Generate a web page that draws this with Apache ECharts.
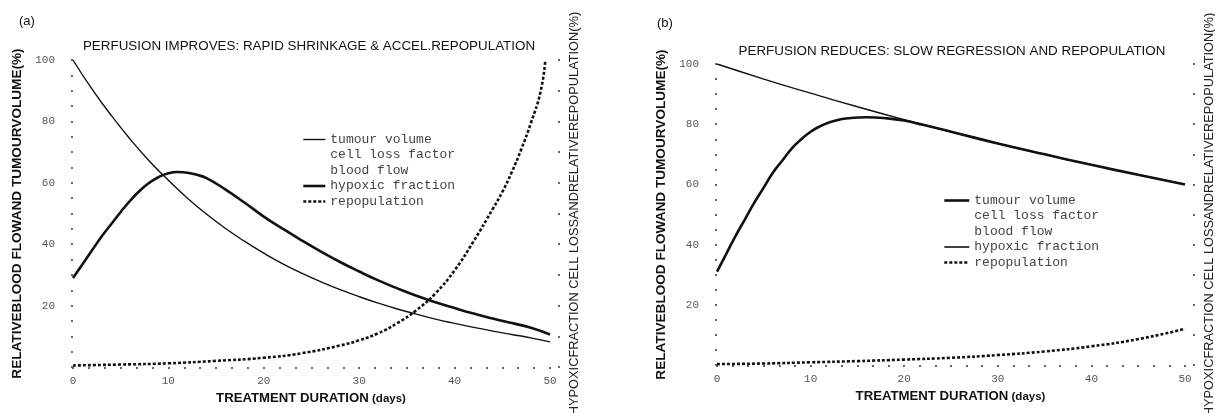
<!DOCTYPE html>
<html>
<head>
<meta charset="utf-8">
<script src="https://cdn.jsdelivr.net/npm/echarts@6/dist/echarts.min.js"></script>
<style>
html,body{margin:0;padding:0;background:#fff;}
#main{width:1215px;height:413px;}
</style>
</head>
<body>
<div id="main"></div>
<script>
// tick labels
var xTicks = [0, 10, 20, 30, 40, 50];
var yTicks = [20, 40, 60, 80, 100];

// panel (a) - perfusion improves
var daysTumourA = [0,2,4,6,8,10,12,14,16,18,20,22,24,26,28,30,32,34,36,38,40,42,44,46,48,50];
var tumourA = [100,90.5,82,74.2,67.1,60.8,55.0,49.8,45.1,40.9,37.1,33.6,30.5,27.7,25.2,22.9,20.8,18.9,17.2,15.6,14.2,12.9,11.7,10.6,9.5,8.2];
var daysHypoxA = [0,1,2,3,4,5,6,7,8,9,10,11,12,13,14,16,18,20,22,24,26,28,30,32,34,36,38,40,42,44,46,48,50];
var hypoxA = [29,33.5,38,42.5,46.5,50.5,54.2,57.4,60,61.9,63.1,63.5,63.3,62.6,61.5,57.8,53.5,49,45,41.2,37.6,34.2,31.1,28.2,25.6,23.2,21.1,19.2,17.4,15.8,14.3,12.8,10.6];
var daysRepopA = [0,5,10,15,20,24,28,30,32,34,36,38,40,42,44,45,46,47,48,49,49.5];
var repopA = [0.5,0.8,1.2,2,3,4.5,7,8.7,11,14.3,18.5,24,31.5,41,51.5,57,63.5,71,79.5,89.5,99.5];

// panel (b) - perfusion reduces
var daysTumourB = [0,5,10,15,20,25,30,35,40,45,50];
var tumourB = [100,95,90.3,85.8,81.5,77.5,73.6,70,66.5,63.2,60];
var daysHypoxB = [0,1,2,3,4,5,6,7,8,9,10,11,12,13,14,16,18,20,22,25,30,35,40,45,50];
var hypoxB = [31,37,43,48.5,54,59,64,68,72,75,77.5,79.3,80.6,81.5,82,82.3,82,81.2,79.8,77.5,73.6,70,66.5,63.2,60];
var daysRepopB = [0,5,10,15,20,25,30,35,40,45,50];
var repopB = [0.3,0.5,0.9,1.3,1.8,2.4,3.3,4.5,6.2,8.6,12];

var legendNames = ['tumour volume', 'cell loss factor', 'blood flow', 'hypoxic fraction', 'repopulation'];

function pairs(xs, ys){
	var out = [];
	for (var i=0;i<xs.length;i++){
		out.push([xs[i], ys[i]]);
	}
	return out;
}
function steps(from, to, step){
	var out = [];
	for (var v=from; v<=to+1e-6; v+=step){
		out.push(Math.round(v*1000)/1000);
	}
	return out;
}

var ink = '#111';
var tickFont = {fontFamily:'Liberation Mono', fontSize:11, color:'#555'};
var thin = {color:ink, width:1.4};
var thick = {color:ink, width:2.6};
var dashed = {color:ink, width:2.6, type:[3,2]};
var hidden = {opacity:0};

function xAxisFor(grid, min, max){
	return {
		type:'value', gridIndex:grid, min:min, max:max,
		axisLine:{show:false}, splitLine:{show:false},
		axisTick:{show:true, length:2, customValues:steps(0,50,5/3), lineStyle:{color:'#666', width:2}},
		axisLabel:Object.assign({customValues:xTicks, margin:9}, tickFont),
		name:'{a|TREATMENT DURATION} {b|(days)}',
		nameLocation:'middle', nameGap:19,
		nameTextStyle:{rich:{
			a:{fontFamily:'Liberation Sans', fontWeight:'bold', fontSize:13.2, color:ink},
			b:{fontFamily:'Liberation Sans', fontWeight:'bold', fontSize:11.5, color:ink}
		}}
	};
}
function leftAxisFor(grid){
	return {
		type:'value', gridIndex:grid, min:0, max:100, position:'left',
		axisLine:{show:false}, splitLine:{show:false},
		axisTick:{show:true, length:2, customValues:steps(0,100,5), lineStyle:{color:'#666', width:2}},
		axisLabel:Object.assign({customValues:yTicks, margin:7}, tickFont),
		name:'RELATIVEBLOOD FLOWAND TUMOURVOLUME(%)',
		nameLocation:'middle', nameRotate:90, nameGap:38,
		nameTextStyle:{fontFamily:'Liberation Sans', fontWeight:'bold', fontSize:13.6, color:ink}
	};
}
function rightAxisFor(grid){
	return {
		type:'value', gridIndex:grid, min:0, max:100, position:'right',
		axisLine:{show:false}, splitLine:{show:false},
		axisTick:{show:true, length:2, inside:true, customValues:steps(0,100,10), lineStyle:{color:'#666', width:2}},
		axisLabel:{show:false},
		name:'HYPOXICFRACTION CELL LOSSANDRELATIVEREPOPULATION(%)',
		nameLocation:'middle', nameRotate:90, nameGap:8,
		nameTextStyle:{fontFamily:'Liberation Sans', fontSize:12.8, color:'#222'}
	};
}
function lineSeries(name, xi, yi, data, style){
	return {
		name:name, type:'line', xAxisIndex:xi, yAxisIndex:yi,
		data:data, symbol:'none', smooth:true, silent:true,
		lineStyle:style, itemStyle:{color:ink}
	};
}
function legendFor(left, top, width, styles){
	var data = [];
	for (var i=0;i<legendNames.length;i++){
		data.push({name:legendNames[i], lineStyle:styles[i], itemStyle:{opacity:0}});
	}
	return {
		orient:'vertical', left:left, top:top, selectedMode:false,
		itemWidth:width, itemHeight:14, itemGap:2.5,
		textStyle:{fontFamily:'Liberation Mono', fontSize:13, color:'#444'},
		data:data
	};
}

var titleStyle = {fontFamily:'Liberation Sans', fontSize:13.4, fontWeight:'normal', color:ink};
var option = {
	backgroundColor:'#fff',
	animation:false,
	title:[
		{text:'(a)', left:14, top:10, textStyle:{fontFamily:'Liberation Sans', fontSize:13, fontWeight:'normal', color:ink}},
		{text:'(b)', left:652, top:12, textStyle:{fontFamily:'Liberation Sans', fontSize:13, fontWeight:'normal', color:ink}},
		{text:'PERFUSION IMPROVES: RAPID SHRINKAGE & ACCEL.REPOPULATION', left:304, top:35, textAlign:'center', textStyle:titleStyle},
		{text:'PERFUSION REDUCES: SLOW REGRESSION AND REPOPULATION', left:947, top:40, textAlign:'center', textStyle:titleStyle}
	],
	grid:[
		{left:62, right:655, top:60, bottom:46, outerBoundsMode:'none'},
		{left:706, right:20, top:64, bottom:48, outerBoundsMode:'none'}
	],
	xAxis:[xAxisFor(0, -1.15, 51.05), xAxisFor(1, -1.18, 51.07)],
	yAxis:[leftAxisFor(0), rightAxisFor(0), leftAxisFor(1), rightAxisFor(1)],
	legend:[
		legendFor(297, 128, 22, [thin, hidden, hidden, thick, dashed]),
		legendFor(938, 189, 25, [thick, hidden, hidden, {color:ink, width:1.6}, dashed])
	],
	series:[
		lineSeries('tumour volume', 0, 0, pairs(daysTumourA, tumourA), thin),
		lineSeries('cell loss factor', 0, 0, [], hidden),
		lineSeries('blood flow', 0, 0, [], hidden),
		lineSeries('hypoxic fraction', 0, 0, pairs(daysHypoxA, hypoxA), thick),
		lineSeries('repopulation', 0, 0, pairs(daysRepopA, repopA), dashed),
		lineSeries('tumour volume', 1, 2, pairs(daysTumourB, tumourB), thin),
		lineSeries('hypoxic fraction', 1, 2, pairs(daysHypoxB, hypoxB), thick),
		lineSeries('repopulation', 1, 2, pairs(daysRepopB, repopB), dashed)
	]
};

var myChart = echarts.init(document.getElementById('main'));
myChart.setOption(option);
</script>
</body>
</html>
